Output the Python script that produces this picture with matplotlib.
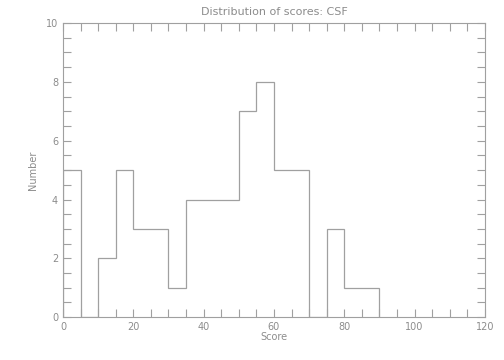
import numpy as np
import matplotlib
matplotlib.use('Agg')
import matplotlib.pyplot as plt
from matplotlib.ticker import MultipleLocator

# histogram of scores, bin width 5
bin_edges = [0, 5, 10, 15, 20, 25, 30, 35, 40, 45, 50, 55, 60, 65, 70, 75, 80, 85, 90]
counts = [5, 0, 2, 5, 3, 3, 1, 4, 4, 4, 7, 8, 5, 5, 0, 3, 1, 1]

col = '#a0a0a0'
txt = '#8c8c8c'

fig = plt.figure(figsize=(5.04, 3.6), dpi=100)
ax = fig.add_axes([0.125, 0.119, 0.837, 0.817])

ax.stairs(counts, bin_edges, baseline=0, color=col, linewidth=0.9)

ax.set_xlim(0, 120)
ax.set_ylim(0, 10)
ax.xaxis.set_major_locator(MultipleLocator(20))
ax.xaxis.set_minor_locator(MultipleLocator(5))
ax.yaxis.set_major_locator(MultipleLocator(2))
ax.yaxis.set_minor_locator(MultipleLocator(0.5))
ax.tick_params(which='both', direction='in', top=True, right=True,
               color=col, labelcolor=txt, labelsize=7, length=6, width=0.8)
for s in ax.spines.values():
    s.set_color(col)
    s.set_linewidth(0.8)

ax.set_title('Distribution of scores: CSF', fontsize=8, color=txt, pad=6)
ax.set_xlabel('Score', fontsize=7, color=txt, labelpad=0)
ax.set_ylabel('Number', fontsize=7, color=txt, labelpad=6)

fig.savefig('out.png', dpi=100)
